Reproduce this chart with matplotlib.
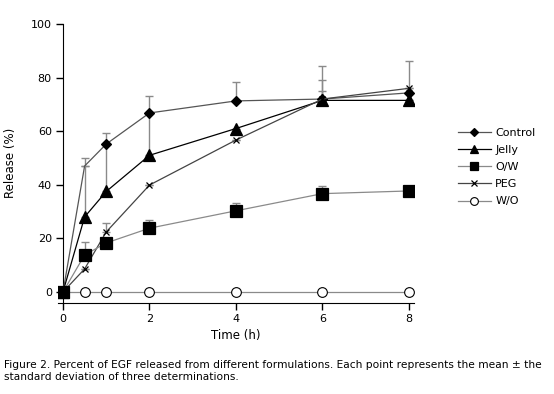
import numpy as np
import matplotlib.pyplot as plt

plt.rcParams['font.family'] = ['DejaVu Sans']

times = [0, 0.5, 1, 2, 4, 6, 8]

control = [0, 47, 55.2, 66.8, 71.3, 72, 74.3]
jelly = [0, 28, 37.5, 51, 61, 71.5, 71.5]
ow = [0, 13.8, 18.3, 23.8, 30.3, 36.7, 37.7]
peg = [0, 8.6, 22.4, 39.9, 56.7, 72, 76]
wo = [0, 0, 0, 0, 0, 0, 0]

# upper error only (lower ones hidden in the original)
control_err = [0, 0, 0, 0, 7, 7, 12]
jelly_err = [0, 22, 22, 22, 0, 13, 0]
ow_err = [0, 5, 0, 3, 3, 3, 0]
peg_err = [0, 0, 3.3, 0, 0, 3, 0]

caption = ('Figure 2. Percent of EGF released from different formulations. '
           'Each point represents the mean \u00b1 the\n'
           'standard deviation of three determinations.')

fig = plt.figure(figsize=(5.54, 3.94), dpi=100)
ax = fig.add_axes([0.1043, 0.2317, 0.6433, 0.7074])

gray = '#8a8a8a'

def draw(y, err, marker, ms, lc, label, mfc='black', ecol=gray, every=None, z=2):
    zeros = np.zeros(len(err))
    ax.errorbar(times, y, yerr=[zeros, err], fmt='none', ecolor=ecol,
                elinewidth=1.0, capsize=3, capthick=1.0, zorder=z)
    ax.plot(times, y, color=lc, lw=0.9, marker=marker, ms=ms, mfc=mfc,
            mec='black', mew=0.9, markevery=every, label=label, zorder=z + 1)

draw(control, control_err, 'D', 5, '#555555', 'Control', every=[0, 2, 3, 4, 5, 6])
draw(jelly, jelly_err, '^', 8, 'black', 'Jelly')
draw(ow, ow_err, 's', 8, gray, 'O/W', z=5)
draw(peg, peg_err, 'x', 5, '#444444', 'PEG')
ax.plot(times, wo, color=gray, lw=0.9, marker='o', ms=7, mfc='white',
        mec='black', mew=0.8, label='W/O', zorder=4)

ax.set_xlim(-0.12, 8.12)
ax.set_ylim(-4, 100)
ax.set_xticks([0, 2, 4, 6, 8])
ax.set_yticks([0, 20, 40, 60, 80, 100])
ax.spines['top'].set_visible(False)
ax.spines['right'].set_visible(False)
ax.spines['left'].set_position(('data', 0))
ax.spines['left'].set_bounds(-4, 100)
ax.tick_params(direction='out', length=5, width=1, labelsize=8, pad=3)
ax.set_xlabel('Time (h)', fontsize=8.5)
ax.set_ylabel('Release (%)', fontsize=8.5)
ax.yaxis.set_label_coords(-0.115, 0.5)
ax.xaxis.set_label_coords(0.5, -0.095)

ax.legend(loc='center left', bbox_to_anchor=(452 / 554, 1 - 167 / 394),
          bbox_transform=fig.transFigure, frameon=False, fontsize=8,
          handlelength=3.0, handletextpad=0.4, labelspacing=0.65, borderpad=0,
          markerscale=0.8)

fig.text(4 / 554, 1 - 371 / 394, caption, fontsize=7.7, va='center',
         ha='left', linespacing=1.15)

fig.savefig('out.png', dpi=100)
